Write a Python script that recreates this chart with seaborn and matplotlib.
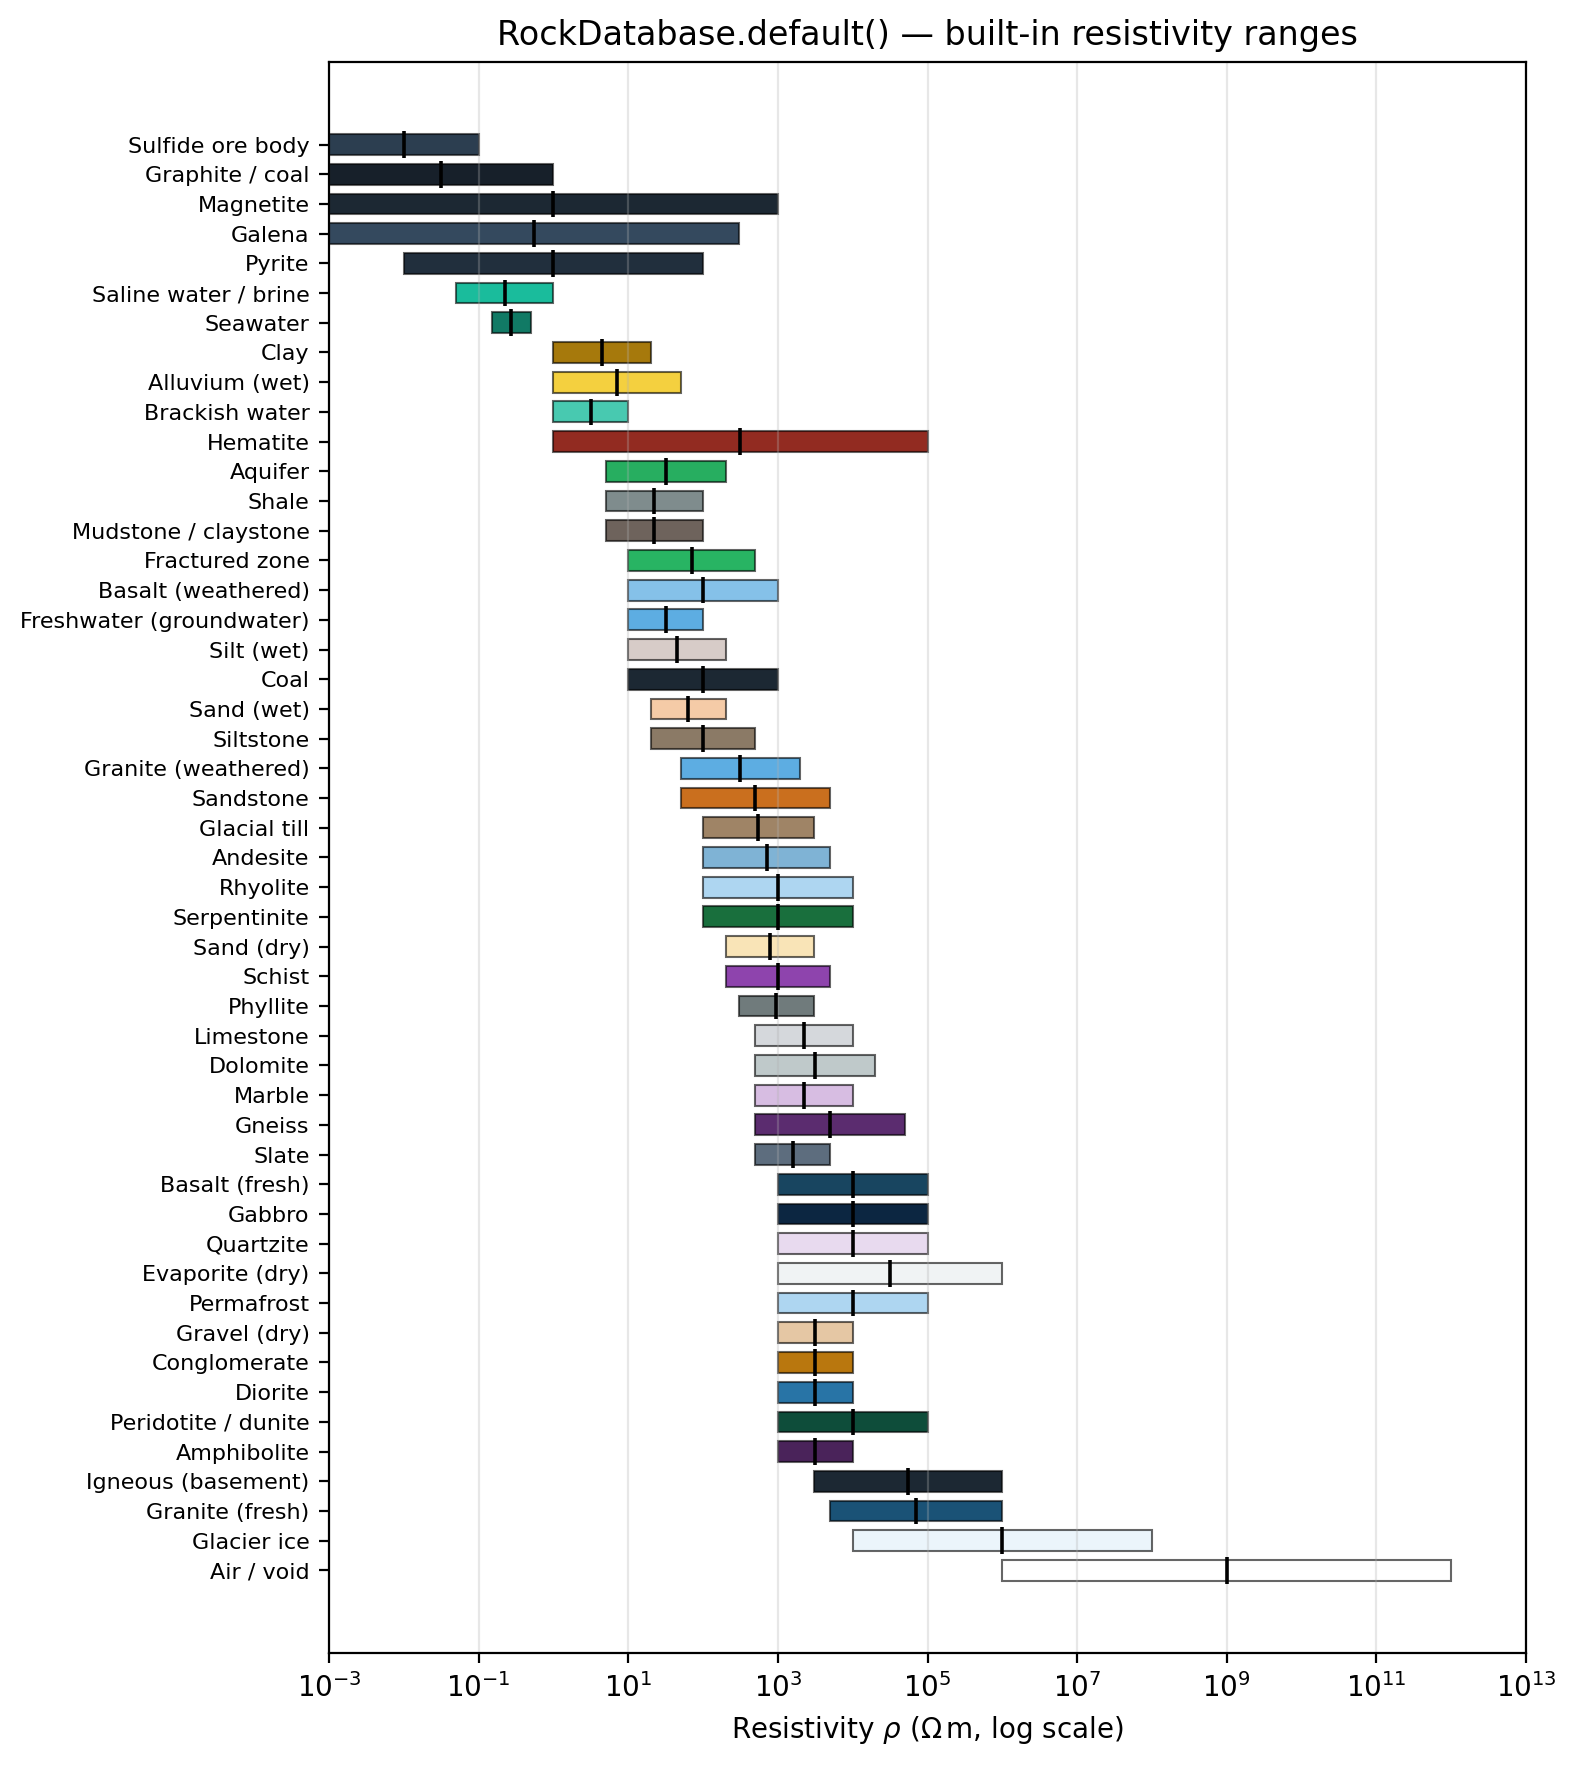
import numpy as np
import pandas as pd
import matplotlib
matplotlib.use("Agg")
import matplotlib.pyplot as plt
import seaborn as sns

names = [
    "Sulfide ore body", "Graphite / coal", "Magnetite", "Galena", "Pyrite",
    "Saline water / brine", "Seawater", "Clay", "Alluvium (wet)", "Brackish water",
    "Hematite", "Aquifer", "Shale", "Mudstone / claystone", "Fractured zone",
    "Basalt (weathered)", "Freshwater (groundwater)", "Silt (wet)", "Coal", "Sand (wet)",
    "Siltstone", "Granite (weathered)", "Sandstone", "Glacial till", "Andesite",
    "Rhyolite", "Serpentinite", "Sand (dry)", "Schist", "Phyllite",
    "Limestone", "Dolomite", "Marble", "Gneiss", "Slate",
    "Basalt (fresh)", "Gabbro", "Quartzite", "Evaporite (dry)", "Permafrost",
    "Gravel (dry)", "Conglomerate", "Diorite", "Peridotite / dunite", "Amphibolite",
    "Igneous (basement)", "Granite (fresh)", "Glacier ice", "Air / void",
]

rho_min = [
    1e-3, 1e-3, 1e-3, 1e-3, 1e-2,
    0.05, 0.15, 1, 1, 1,
    1, 5, 5, 5, 10,
    10, 10, 10, 10, 20,
    20, 50, 50, 100, 100,
    100, 100, 200, 200, 300,
    500, 500, 500, 500, 500,
    1e3, 1e3, 1e3, 1e3, 1e3,
    1e3, 1e3, 1e3, 1e3, 1e3,
    3e3, 5e3, 1e4, 1e6,
]

rho_max = [
    0.1, 1, 1e3, 300, 100,
    1, 0.5, 20, 50, 10,
    1e5, 200, 100, 100, 500,
    1e3, 100, 200, 1e3, 200,
    500, 2e3, 5e3, 3e3, 5e3,
    1e4, 1e4, 3e3, 5e3, 3e3,
    1e4, 2e4, 1e4, 5e4, 5e3,
    1e5, 1e5, 1e5, 1e6, 1e5,
    1e4, 1e4, 1e4, 1e5, 1e4,
    1e6, 1e6, 1e8, 1e12,
]

rho_typical = [
    0.01, 0.0316, 1.0, 0.55, 1.0,
    0.224, 0.274, 4.47, 7.07, 3.16,
    316, 31.6, 22.4, 22.4, 70.7,
    100, 31.6, 44.7, 100, 63.2,
    100, 316, 500, 548, 707,
    1000, 1000, 775, 1000, 949,
    2236, 3162, 2236, 5000, 1581,
    1e4, 1e4, 1e4, 3.16e4, 1e4,
    3162, 3162, 3162, 1e4, 3162,
    5.48e4, 7.07e4, 1e6, 1e9,
]

colors = [
    "#2c3e50", "#17202a", "#1c2833", "#34495e", "#212f3d",
    "#1abc9c", "#117a65", "#a6790c", "#f4d03f", "#48c9b0",
    "#922b21", "#27ae60", "#7f8c8d", "#6e635c", "#28b463",
    "#85c1e9", "#5dade2", "#d7ccc8", "#1c2833", "#f5cba7",
    "#8b7a66", "#5dade2", "#ca6f1e", "#9f8466", "#7fb3d5",
    "#aed6f1", "#196f3d", "#f9e4b7", "#8e44ad", "#707b7c",
    "#d5d8dc", "#bfc9ca", "#d7bde2", "#5b2c6f", "#5d6d7e",
    "#184560", "#0c2641", "#e8daef", "#f0f3f4", "#aed6f1",
    "#e5c7a4", "#b9770e", "#2874a6", "#0e4d3a", "#4a235a",
    "#1c2833", "#1a5276", "#ebf5fb", "#ffffff",
]

df = pd.DataFrame({"name": names, "lo": rho_min, "hi": rho_max,
                   "typ": rho_typical, "color": colors})
df["pos"] = np.arange(len(df))

sns.set_theme(style="ticks", rc={
    "axes.edgecolor": "black", "axes.linewidth": 0.8,
    "xtick.color": "black", "ytick.color": "black",
    "text.color": "black", "axes.labelcolor": "black",
    "xtick.major.width": 0.8, "ytick.major.width": 0.8,
    "xtick.major.size": 3.5, "ytick.major.size": 3.5,
    "xtick.direction": "out", "ytick.direction": "out",
    "axes.spines.right": True, "axes.spines.top": True,
})
plt.rcParams["font.family"] = ["DejaVu Sans"]
plt.rcParams["mathtext.fontset"] = "dejavusans"

fig = plt.figure(figsize=(1577 / 200, 1766 / 200), dpi=200)
ax = fig.add_axes([0.2086, 0.0638, 0.9677 - 0.2086, 0.9651 - 0.0638])

ax.barh(df["pos"], df["hi"] - df["lo"], left=df["lo"], height=0.7,
        color=df["color"], edgecolor=(0, 0, 0, 0.6), linewidth=0.75, zorder=1)
ax.vlines(df["typ"], df["pos"] - 0.45, df["pos"] + 0.45,
          color="black", linewidth=1.3, zorder=3)

ax.set_xscale("log")
ax.set_xlim(1e-3, 1e13)
ax.set_xticks(10.0 ** np.arange(-3, 14, 2))
ax.xaxis.set_minor_locator(matplotlib.ticker.NullLocator())
ax.set_ylim(50.79, -2.79)
ax.set_yticks(df["pos"])
ax.set_yticklabels(df["name"], fontsize=8)
ax.tick_params(axis="x", labelsize=10)
ax.grid(axis="x", color="#b0b0b0", alpha=0.3, linewidth=0.8, zorder=1.5)
ax.set_axisbelow("line")

ax.set_xlabel(r"Resistivity $\rho$ ($\Omega\,$m, log scale)", fontsize=10)
ax.set_title("RockDatabase.default() — built-in resistivity ranges", fontsize=12)

fig.savefig("out.png", dpi=200)
